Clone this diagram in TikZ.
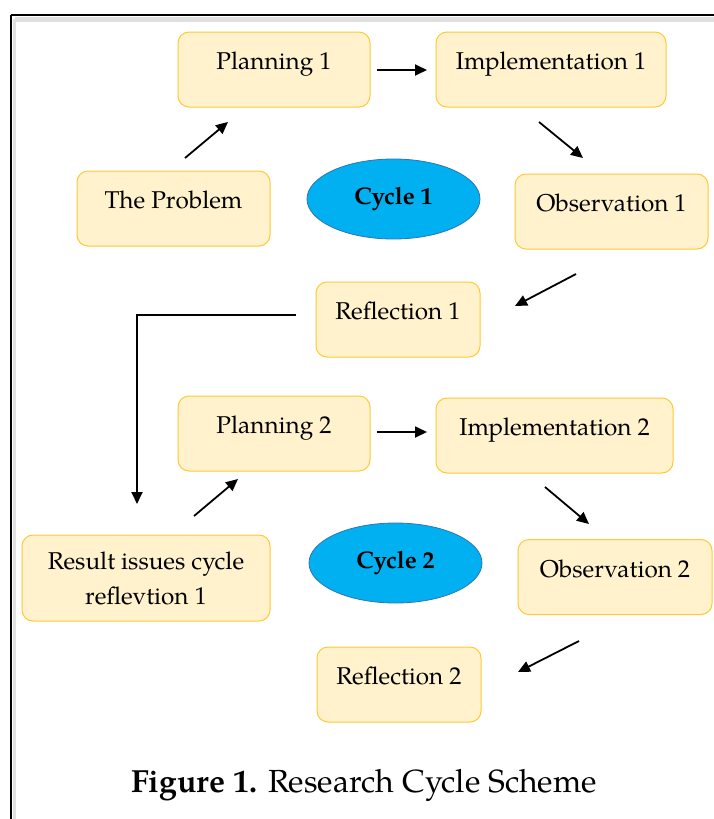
\documentclass[tikz,border=0pt]{standalone}
\usepackage{fontspec}
\setmainfont{TeX Gyre Pagella}
\usetikzlibrary{arrows.meta}
\definecolor{boxfill}{HTML}{FFF2CC}
\definecolor{boxline}{HTML}{FFC933}
\definecolor{cyclefill}{HTML}{00B0F0}
\definecolor{cycleline}{HTML}{2E75B6}
\tikzset{
  stepbox/.style={draw=boxline, fill=boxfill, rounded corners=11pt, line width=1pt,
    inner sep=0pt, text height=37.5pt, text depth=37.5pt, align=center,
    font=\fontsize{24.3}{35}\selectfont},
  cyclenode/.style={ellipse, draw=cycleline, fill=cyclefill, line width=0.8pt,
    inner sep=0pt, minimum width=173pt, minimum height=80pt,
    font=\fontsize{24}{26}\selectfont\bfseries},
  flow/.style={line width=1.8pt, -{Triangle[length=12pt,width=11pt]}},
}
\usetikzlibrary{shapes.geometric}
\begin{document}
\begin{tikzpicture}[x=1pt,y=-1pt]
\useasboundingbox (0,0) rectangle (714,819);
\fill[white] (0,0) rectangle (714,819);
% frame with soft shadow
\draw[black!12, line width=5pt] (15,19.5) -- (714,19.5);
\draw[black!12, line width=3pt] (14.5,19) -- (14.5,819);
\draw[black, line width=1.8pt] (11,15) -- (714,15);
\draw[black, line width=1.8pt] (11,15) -- (11,819);

% boxes
\node[stepbox, minimum width=192pt] (p1) at (274,69.5) {Planning 1};
\node[stepbox, minimum width=230pt] (i1) at (551,69.5) {Implementation 1};
\node[stepbox, minimum width=193pt] (prob) at (173.5,208.5) {The Problem};
\node[stepbox, minimum width=193pt] (o1) at (611.5,211.5) {Observation 1};
\node[stepbox, minimum width=164pt] (r1) at (398,319.5) {Reflection 1};
\node[stepbox, minimum width=192pt] (p2) at (274,433.5) {Planning 2};
\node[stepbox, minimum width=237pt] (i2) at (554.5,435.5) {Implementation 2};
\node[stepbox, minimum width=194pt] (o2) at (615,577) {Observation 2};
\node[stepbox, minimum width=164pt] (r2) at (399,684.5) {Reflection 2};
\node[stepbox, minimum width=248pt, minimum height=86pt, text height={}, text depth={}] (res) at (146,578) {Result issues cycle\\reflevtion 1};

% cycles
\node[cyclenode] (c1) at (393.5,199) {Cycle 1};
\node[cyclenode] (c2) at (395.5,563) {Cycle 2};

% arrow end points
\coordinate (a1s) at (185,158); \coordinate (a1e) at (228,122);
\coordinate (a2s) at (377,70);  \coordinate (a2e) at (427,70);
\coordinate (a3s) at (539,122); \coordinate (a3e) at (583,158);
\coordinate (a4s) at (576,274); \coordinate (a4e) at (515,306);
\coordinate (a5s) at (296,315); \coordinate (a5c) at (137,315); \coordinate (a5e) at (137,504);
\coordinate (a6s) at (194,516); \coordinate (a6e) at (238,479);
\coordinate (a7s) at (377,432); \coordinate (a7e) at (427,432);
\coordinate (a8s) at (545,487); \coordinate (a8e) at (589,524);
\coordinate (a9s) at (579,641); \coordinate (a9e) at (518,672);

\draw[flow] (a1s) -- (a1e);
\draw[flow] (a2s) -- (a2e);
\draw[flow] (a3s) -- (a3e);
\draw[flow] (a4s) -- (a4e);
\draw[flow] (a5s) -- (a5c) -- (a5e);
\draw[flow] (a6s) -- (a6e);
\draw[flow] (a7s) -- (a7e);
\draw[flow] (a8s) -- (a8e);
\draw[flow] (a9s) -- (a9e);

% caption
\node[anchor=base, inner sep=0pt, font=\fontsize{32}{36}\selectfont] (cap) at (364,792) {\textbf{Figure 1.} Research Cycle Scheme};
\end{tikzpicture}
\end{document}
